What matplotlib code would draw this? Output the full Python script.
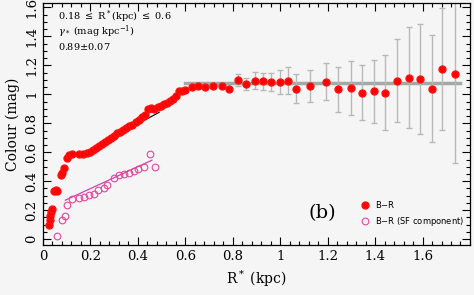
import matplotlib
matplotlib.use('Agg')
import matplotlib.pyplot as plt
from matplotlib.ticker import MultipleLocator

# B-R profile (filled red), inner part without error bars
r_inner = [0.027, 0.029, 0.031, 0.033, 0.036, 0.047, 0.053, 0.060, 0.074, 0.080,
           0.088, 0.100, 0.111, 0.122, 0.153, 0.170, 0.184, 0.198, 0.210, 0.222,
           0.236, 0.250, 0.262, 0.275, 0.288, 0.300, 0.313, 0.325, 0.338, 0.350,
           0.363, 0.376, 0.390, 0.403, 0.416, 0.430, 0.443, 0.456, 0.470, 0.483,
           0.497, 0.510, 0.523, 0.537, 0.549, 0.562, 0.572, 0.585, 0.598, 0.627,
           0.653, 0.682, 0.716, 0.754, 0.785]
c_inner = [0.10, 0.13, 0.16, 0.19, 0.21, 0.33, 0.34, 0.33, 0.44, 0.46,
           0.49, 0.56, 0.58, 0.59, 0.585, 0.585, 0.595, 0.605, 0.615, 0.63,
           0.645, 0.66, 0.67, 0.685, 0.70, 0.715, 0.73, 0.74, 0.755, 0.765,
           0.78, 0.79, 0.81, 0.825, 0.84, 0.855, 0.90, 0.905, 0.90, 0.91,
           0.92, 0.93, 0.94, 0.955, 0.97, 0.99, 1.02, 1.025, 1.03, 1.05,
           1.055, 1.05, 1.055, 1.055, 1.04]

# outer part with error bars
r_outer = [0.822, 0.855, 0.893, 0.928, 0.963, 0.998, 1.033, 1.068, 1.124, 1.194,
           1.243, 1.297, 1.346, 1.395, 1.441, 1.493, 1.541, 1.590, 1.639, 1.681,
           1.735]
c_outer = [1.10, 1.07, 1.095, 1.09, 1.085, 1.085, 1.094, 1.04, 1.06, 1.088,
           1.034, 1.041, 1.012, 1.021, 1.012, 1.094, 1.115, 1.103, 1.039, 1.175,
           1.138]
c_err = [0.04, 0.04, 0.057, 0.057, 0.065, 0.08, 0.094, 0.10, 0.11, 0.127,
         0.155, 0.186, 0.19, 0.216, 0.256, 0.287, 0.348, 0.38, 0.37, 0.42,
         0.61]

# B-R, star-forming component (open pink)
r_sf = [0.059, 0.080, 0.091, 0.101, 0.122, 0.150, 0.171, 0.192, 0.213, 0.234,
        0.256, 0.270, 0.298, 0.319, 0.340, 0.361, 0.382, 0.400, 0.424, 0.452,
        0.473]
c_sf = [0.023, 0.131, 0.160, 0.239, 0.276, 0.285, 0.292, 0.303, 0.315, 0.338,
        0.354, 0.372, 0.419, 0.446, 0.453, 0.460, 0.469, 0.483, 0.499, 0.591,
        0.499]

# fits
fit_r = [0.18, 0.49]
fit_c = [0.60, 0.876]
sf_fit_r = [0.094, 0.459]
sf_fit_c = [0.269, 0.545]
plateau_r = [0.60, 1.76]
plateau_c = [1.078, 1.078]

plt.rcParams['font.family'] = 'DejaVu Serif'
plt.rcParams['mathtext.fontset'] = 'dejavuserif'

bg = '#f5f5f5'
fig = plt.figure(figsize=(4.74, 2.95), dpi=100, facecolor=bg)
ax = fig.add_axes([0.0907, 0.1695, 0.9008, 0.8203], facecolor=bg)

ax.plot(plateau_r, plateau_c, color='#a3aaa6', lw=2.5, zorder=1)
ax.errorbar(r_outer, c_outer, yerr=c_err, fmt='none', ecolor='#b8b8b8',
            elinewidth=1.0, capsize=2, zorder=2)
ax.plot(fit_r, fit_c, color='black', lw=0.8, zorder=2)
ax.plot(sf_fit_r, sf_fit_c, color='#d040b0', lw=0.9, zorder=2)

ax.plot(r_inner + r_outer, c_inner + c_outer, 'o', color='#ff0000',
        ms=5, mec='#ff1010', zorder=3, label='B$-$R')
ax.plot(r_sf, c_sf, 'o', mfc='none', mec='#e0489a', ms=4.8, mew=0.8,
        zorder=3, label='B$-$R (SF component)')

ax.set_xlim(0, 1.8)
ax.set_ylim(-0.04, 1.63)
ax.set_xticks([0, 0.2, 0.4, 0.6, 0.8, 1, 1.2, 1.4, 1.6])
ax.set_xticklabels(['0', '0.2', '0.4', '0.6', '0.8', '1', '1.2', '1.4', '1.6'])
ax.set_yticks([0, 0.2, 0.4, 0.6, 0.8, 1, 1.2, 1.4, 1.6])
ax.set_yticklabels(['0', '0.2', '0.4', '0.6', '0.8', '1', '1.2', '1.4', '1.6'],
                   rotation=90, va='center')
ax.xaxis.set_minor_locator(MultipleLocator(0.04))
ax.yaxis.set_minor_locator(MultipleLocator(0.05))
ax.tick_params(which='both', direction='in', top=True, right=True,
               labelsize=9.5, width=0.8)
ax.tick_params(which='major', length=6)
ax.tick_params(which='minor', length=3)
for s in ax.spines.values():
    s.set_linewidth(0.9)

ax.set_xlabel('R$^*$ (kpc)', fontsize=10)
ax.set_ylabel('Colour (mag)', fontsize=10, labelpad=4)

ax.text(0.035, 0.945, '0.18 $\\leq$ R$^*$(kpc) $\\leq$ 0.6', transform=ax.transAxes,
        fontsize=7, va='center')
ax.text(0.035, 0.88, '$\\gamma_*$ (mag kpc$^{-1}$)', transform=ax.transAxes,
        fontsize=7, va='center')
ax.text(0.035, 0.82, '0.89$\\pm$0.07', transform=ax.transAxes,
        fontsize=7, va='center')

ax.text(0.655, 0.13, '(b)', transform=ax.transAxes, fontsize=14, va='center',
        ha='center')

ax.legend(loc='center left', bbox_to_anchor=(0.728, 0.13), frameon=False,
          handlelength=1.0, handletextpad=0.6, labelspacing=0.6,
          prop={'family': 'DejaVu Sans', 'size': 6})

fig.savefig('out.png', dpi=100, facecolor=bg)
